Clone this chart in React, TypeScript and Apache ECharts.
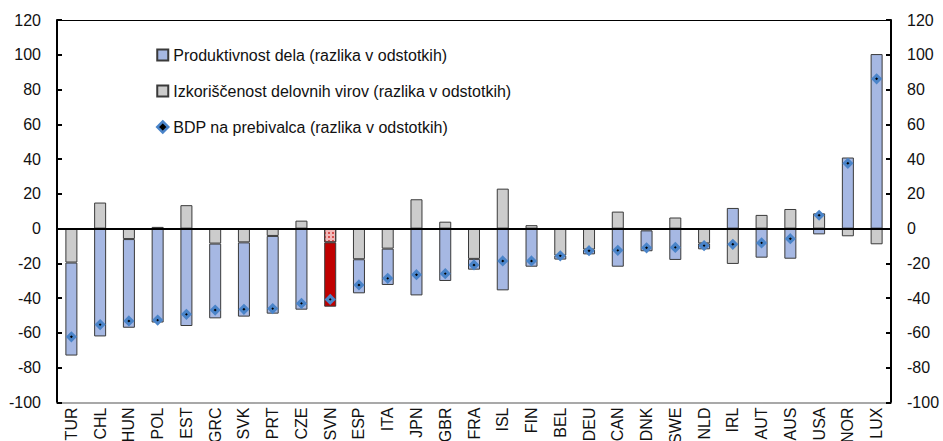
import React, { useEffect, useRef } from "react";
import * as echarts from "echarts";

const categories = ["TUR","CHL","HUN","POL","EST","GRC","SVK","PRT","CZE","SVN","ESP","ITA","JPN","GBR","FRA","ISL","FIN","BEL","DEU","CAN","DNK","SWE","NLD","IRL","AUT","AUS","USA","NOR","LUX"];

const labourUtil = [-19.5, 15, -6, 1, 13.5, -8.6, -7.9, -4.2, 4.6, -7.9, -17.6, -11.5, 16.9, 4, -17.4, 23, 2, -15.5, -12, 9.8, -1, 6.4, -8.5, -20.3, 7.9, 11.3, 8.8, -4.4, -9];

const productivity = [-53.5, -62, -51, -54, -56, -43, -42.7, -44.7, -46.6, -37, -19.6, -20.9, -38.4, -30.1, -6.2, -35.5, -21.9, -2.3, -2.8, -21.9, -12, -18, -3.4, 11.9, -16.7, -17.3, -3.3, 40.9, 100.4];

const gdpPerCapita = [-62.2, -55.2, -53.1, -52.6, -49.3, -46.8, -46.4, -46, -43, -40.7, -32.4, -28.6, -26.5, -25.9, -20.9, -18.6, -18.6, -15.6, -12.7, -12.5, -11, -10.8, -9.8, -9, -8.2, -5.8, 7.7, 37.6, 86.2];

const yTicks = { min: -100, max: 120, interval: 20 };

const highlight = "SVN";

const NAME_PROD = "Produktivnost dela (razlika v odstotkih)";
const NAME_UTIL = "Izkoriščenost delovnih virov (razlika v odstotkih)";
const NAME_GDP = "BDP na prebivalca (razlika v odstotkih)";

export default function App() {
  const ref = useRef<HTMLDivElement>(null);
  useEffect(() => {
    if (!ref.current) return;
    const chart = echarts.init(ref.current, undefined, { renderer: "svg" });
    const font = "'Liberation Sans', Arial, sans-serif";
    const txt = "#111";
    const border = "#3a3a3a";

    const utilData = labourUtil.map((v, i) =>
      categories[i] === highlight
        ? {
            value: v,
            itemStyle: {
              color: "#f2b8b8",
              decal: {
                symbol: "rect",
                symbolSize: 1,
                color: "#d85050",
                dashArrayX: [2, 2],
                dashArrayY: [2, 2],
                rotation: 0,
              },
            },
          }
        : v
    );
    const prodData = productivity.map((v, i) =>
      categories[i] === highlight ? { value: v, itemStyle: { color: "#c00000" } } : v
    );

    const yAxisBase = {
      type: "value",
      min: yTicks.min,
      max: yTicks.max,
      interval: yTicks.interval,
      splitLine: { show: false },
      axisLine: { show: true, lineStyle: { color: "#000", width: 2 } },
      axisTick: { show: true, inside: true, length: 5, lineStyle: { color: "#000", width: 2 } },
      axisLabel: { fontFamily: font, fontSize: 16, color: txt, margin: 16 },
    };

    chart.setOption({
      animation: false,
      textStyle: { fontFamily: font },
      grid: {
        left: 57,
        right: 52,
        top: 20,
        bottom: 38.5,
        containLabel: false,
        outerBoundsMode: "none",
      },
      legend: {
        orient: "vertical",
        left: 151,
        top: 42,
        itemWidth: 11,
        itemHeight: 11,
        itemGap: 20,
        textStyle: { fontFamily: font, fontSize: 16, color: txt },
        data: [
          { name: NAME_PROD, icon: "rect" },
          { name: NAME_UTIL, icon: "rect" },
          { name: NAME_GDP, icon: "diamond", itemStyle: { borderWidth: 2.5 } },
        ],
        selectedMode: false,
      },
      xAxis: [
        {
          type: "category",
          data: categories,
          position: "bottom",
          axisLine: { show: true, onZero: false, lineStyle: { color: "#8c8c8c", width: 1.5 } },
          axisTick: { show: false },
          axisLabel: { rotate: 90, fontFamily: font, fontSize: 16, color: txt, margin: 5, interval: 0 },
        },
        {
          type: "category",
          data: categories,
          position: "top",
          axisLine: { show: true, onZero: false, lineStyle: { color: "#000", width: 1 } },
          axisTick: { show: false },
          axisLabel: { show: false },
        },
      ],
      yAxis: [
        { ...yAxisBase, position: "left" },
        { ...yAxisBase, position: "right" },
      ],
      series: [
        {
          name: NAME_UTIL,
          type: "bar",
          stack: "total",
          barWidth: 12,
          data: utilData,
          itemStyle: { color: "#cccccc", borderColor: border, borderWidth: 1 },
          markLine: {
            silent: true,
            symbol: "none",
            label: { show: false },
            lineStyle: { color: "#000", width: 2, type: "solid" },
            data: [{ yAxis: 0 }],
            z: 10,
          },
        },
        {
          name: NAME_PROD,
          type: "bar",
          stack: "total",
          barWidth: 12,
          data: prodData,
          itemStyle: { color: "#a6b8e3", borderColor: border, borderWidth: 1 },
        },
        {
          name: NAME_GDP,
          type: "scatter",
          symbol: "diamond",
          symbolSize: 7,
          data: gdpPerCapita,
          itemStyle: { color: "#000", borderColor: "#4a84c9", borderWidth: 3, opacity: 1 },
          z: 5,
        },
      ],
    });
    return () => chart.dispose();
  }, []);
  return (
    <div
      ref={ref}
      style={{ position: "fixed", left: 0, top: 0, width: 943, height: 441, background: "#fff" }}
    />
  );
}
